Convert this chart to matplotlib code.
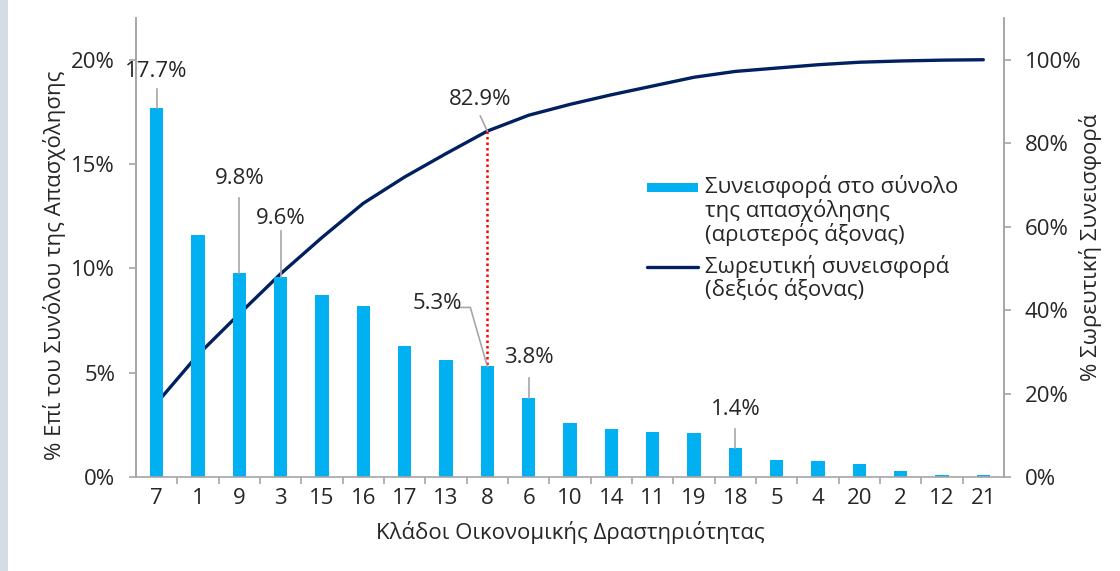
import matplotlib
matplotlib.use("Agg")
import matplotlib.pyplot as plt
from matplotlib.patches import Rectangle
from matplotlib.lines import Line2D

plt.rcParams['font.family'] = ['Open Sans', 'DejaVu Sans']

categories = ['7', '1', '9', '3', '15', '16', '17', '13', '8', '6', '10', '14', '11',
              '19', '18', '5', '4', '20', '2', '12', '21']
share = [17.7, 11.6, 9.8, 9.6, 8.7, 8.2, 6.3, 5.6, 5.3, 3.8, 2.6, 2.3, 2.15,
         2.1, 1.4, 0.8, 0.75, 0.6, 0.3, 0.1, 0.1]
cumulative = [17.7, 29.3, 39.1, 48.7, 57.4, 65.6, 71.9, 77.5, 82.9, 86.7, 89.3,
              91.6, 93.7, 95.8, 97.2, 98.0, 98.8, 99.4, 99.7, 99.9, 100.0]
left_ticks = [0, 5, 10, 15, 20]
right_ticks = [0, 20, 40, 60, 80, 100]
legend_bar = ['Συνεισφορά στο σύνολο', 'της απασχόλησης', '(αριστερός άξονας)']
legend_line = ['Σωρευτική συνεισφορά', '(δεξιός άξονας)']

BAR = '#00B0F0'
LINE = '#002060'
SPINE = '#A6A6A6'
TXT = '#262626'
FS = 16

W, H = 1120, 571
fig = plt.figure(figsize=(11.2, 5.71), dpi=100)
fig.patches.append(Rectangle((0, 0), 8 / W, 1, transform=fig.transFigure,
                             facecolor='#D6DCE4', edgecolor='none', zorder=0))
ax = fig.add_axes([136 / W, 1 - 477 / H, 868 / W, 459 / H])
ax2 = ax.twinx()

x = list(range(len(categories)))
ax.bar(x, share, width=0.32, color=BAR, zorder=2)
ax.set_xlim(-0.5, len(categories) - 0.5)
ax.set_ylim(0, 22)
ax.set_yticks(left_ticks)
ax.set_yticklabels([f'{v}%' for v in left_ticks])
ax.set_xticks(x)
ax.set_xticklabels(categories)
ax.set_xticks([i + 0.5 for i in x[:-1]], minor=True)
ax.tick_params(axis='x', which='major', length=0, pad=8, labelsize=FS, labelcolor=TXT)
ax.tick_params(axis='x', which='minor', length=5, width=1.2, color=SPINE, direction='out')
ax.tick_params(axis='y', length=5, width=1.2, color=SPINE, pad=10, labelsize=FS, labelcolor=TXT)

ax2.set_ylim(0, 110)
ax2.set_yticks(right_ticks)
ax2.set_yticklabels([f'{v}%' for v in right_ticks])
ax2.tick_params(axis='y', length=5, width=1.2, color=SPINE, pad=10, labelsize=FS, labelcolor=TXT)
ax2.plot(x, cumulative, color=LINE, lw=2.4, solid_capstyle='round', solid_joinstyle='round', zorder=3)

for a in (ax, ax2):
    a.spines['top'].set_visible(False)
    for s in ('left', 'right', 'bottom'):
        a.spines[s].set_color(SPINE)
        a.spines[s].set_linewidth(1.2)
ax2.spines['bottom'].set_visible(False)
ax.patch.set_visible(False)
ax.set_zorder(ax2.get_zorder() + 1)

# red dotted connector at category 8
i8 = categories.index('8')
ax2.plot([i8, i8], [cumulative[i8], share[i8] * 5], color='#FF0000', lw=1.8,
         linestyle=(0, (1, 1.2)), zorder=4)

ax.set_ylabel('% Επί του Συνόλου της Απασχόλησης', fontsize=FS, color=TXT)
ax2.set_ylabel('% Σωρευτική Συνεισφορά', fontsize=FS, color=TXT)
ax.set_xlabel('Κλάδοι Οικονομικής Δραστηριότητας', fontsize=FS, color=TXT)
ax.yaxis.label.set_va('center')
ax2.yaxis.label.set_va('center')
ax.xaxis.label.set_va('center')
ax.yaxis.set_label_coords((55 - 136) / 868, (477 - 265) / 459)
ax2.yaxis.set_label_coords((1090 - 136) / 868, (477 - 247) / 459)
ax.xaxis.set_label_coords((570 - 136) / 868, (477 - 532) / 459)


def label(axis, xi, yv, text, pts, tdx, tdy):
    base = axis.transData
    disp = base.transform((xi, yv))
    inv = base.inverted()
    data = inv.transform([(disp[0] + p[0], disp[1] + p[1]) for p in pts])
    axis.plot(data[:, 0], data[:, 1], color=SPINE, lw=1.2, zorder=5, clip_on=False)
    tx, ty = inv.transform((disp[0] + tdx, disp[1] + tdy))
    axis.text(tx, ty, text, ha='center', va='center', fontsize=FS, color=TXT,
              zorder=6, clip_on=False)


fig.canvas.draw()
label(ax, 0, share[0], '17.7%', [(0, 0), (0, 19)], 0, 36)
label(ax, 2, share[2], '9.8%', [(0, 0), (0, 75)], 0, 94)
label(ax, 3, share[3], '9.6%', [(0, 0), (0, 46)], 0, 58)
label(ax, 8, share[8], '5.3%', [(0, 0), (-17, 59), (-29, 59)], -50, 63)
label(ax, 9, share[9], '3.8%', [(0, 0), (0, 20)], 0, 40)
label(ax, 14, share[14], '1.4%', [(0, 0), (0, 19)], 0, 38)
label(ax2, 8, cumulative[8], '82.9%', [(0, 0), (-7, 15)], -7, 32)

# manual legend (handles aligned with the first line of each entry)
LS = 23.5
fig.add_artist(Rectangle((647 / W, 1 - 192 / H), 51 / W, 9 / H, transform=fig.transFigure,
                         facecolor=BAR, edgecolor='none'))
for k, s in enumerate(legend_bar):
    fig.text(705 / W, 1 - (187 + k * LS) / H, s, fontsize=FS, color=TXT,
             ha='left', va='center')
fig.add_artist(Line2D([647 / W, 698 / W], [1 - 267 / H, 1 - 267 / H],
                      transform=fig.transFigure, color=LINE, lw=2.4,
                      solid_capstyle='round'))
for k, s in enumerate(legend_line):
    fig.text(705 / W, 1 - (267 + k * LS) / H, s, fontsize=FS, color=TXT,
             ha='left', va='center')

fig.savefig('out.png', dpi=100)
